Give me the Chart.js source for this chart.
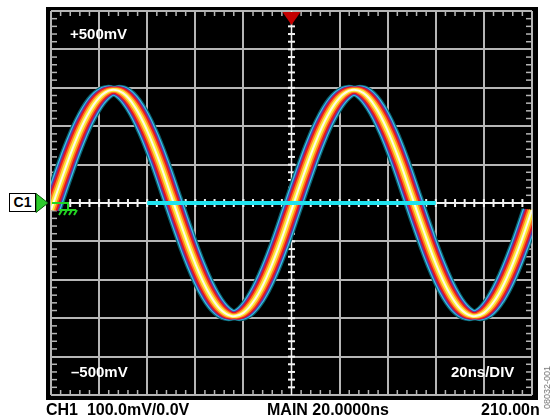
<!DOCTYPE html>
<html>
<head>
<meta charset="utf-8">
<script src="https://cdn.jsdelivr.net/npm/chart.js@4.4.1/dist/chart.umd.min.js"></script>
<style>
  body { margin: 0; background: #fff; }
  #wrap { position: relative; width: 550px; height: 419px; font-family: "Liberation Sans", Arial, sans-serif; font-weight: bold; }
  #scope { position: absolute; left: 0; top: 0; }
  .lbl { position: absolute; white-space: nowrap; line-height: 1; }
  .in { color: #fff; font-size: 15px; }
  .out { color: #000; font-size: 16px; }
  #c1 { position: absolute; left: 9px; top: 193px; width: 25px; height: 17px; border: 1px solid #000; background: #fff; font-size: 14px; line-height: 17px; text-align: center; }
  #code { position: absolute; left: 526px; top: 383px; font-size: 9px; font-weight: normal; color: #777; transform: rotate(-90deg); transform-origin: center; line-height: 1; white-space: nowrap; }
</style>
</head>
<body>
<div id="wrap">
  <canvas id="scope" width="550" height="419"></canvas>
  <div class="lbl in" style="left:70px; top:26px;">+500mV</div>
  <div class="lbl in" style="left:71px; top:364px;">–500mV</div>
  <div class="lbl in" style="left:451px; top:364px;">20ns/DIV</div>
  <div class="lbl out" style="left:46px; top:402px;">CH1&nbsp; 100.0mV/0.0V</div>
  <div class="lbl out" style="left:267px; top:402px;">MAIN 20.0000ns</div>
  <div class="lbl out" style="left:481px; top:402px;">210.00n</div>
  <div id="c1">C1</div>
  <div id="code">08032-001</div>
</div>
<script>
// trace, 5ns steps (ns / mV)
const times = [0, 5, 10, 15, 20, 25, 30, 35, 40, 45, 50, 55, 60, 65, 70, 75, 80, 85, 90, 95,
  100, 105, 110, 115, 120, 125, 130, 135, 140, 145, 150, 155, 160, 165, 170, 175, 180, 185, 190, 195, 200];
const volts = [-18, 73, 158, 227, 274, 294, 286, 249, 188, 109, 18, -73, -158, -227, -274, -294, -286, -249, -188, -109,
  -18, 73, 158, 227, 274, 294, 286, 249, 188, 109, 18, -73, -158, -227, -274, -294, -286, -249, -188, -109, -18];

// cyan reference line across the middle
const cursorTimes = [40, 160];
const cursorVolts = [0, 0];

// screen: 10 x 20ns, 10 x 100mV
const xRange = [0, 200];
const yRange = [-500, 500];

// persistence colours, core -> outside (shift in ns for timing jitter)
const layers = [
  { color: '#fffbe8', width: 2, shift: 0 },
  { color: '#fbe93a', width: 3.5, shift: 0.5 },
  { color: '#ff7a22', width: 5, shift: 0.9 },
  { color: '#e8141e', width: 6.5, shift: 1.35 },
  { color: '#5a3ca8', width: 7.5, shift: 1.8 },
  { color: '#33c8ea', width: 8.5, shift: 2.1 },
  { color: '#0d6070', width: 10, shift: 2.35 }
];

// chart.js paints dataset 0 last (on top), so the cursor goes first
const datasets = [{
  data: cursorTimes.map((t, i) => ({ x: t, y: cursorVolts[i] })),
  borderColor: '#1ee3f0',
  borderWidth: 4,
  pointRadius: 0,
  clip: 0
}];
layers.forEach(l => {
  const shifts = l.shift ? [-l.shift, l.shift] : [0];
  shifts.forEach(s => {
    datasets.push({
      data: times.map((t, i) => ({ x: t + s, y: volts[i] })),
      borderColor: l.color,
      borderWidth: l.width,
      tension: 0.4,
      pointRadius: 0,
      clip: 0
    });
  });
});

const gray = '#b6b6b6';

const scopePlugin = {
  id: 'scope',
  beforeDraw(chart) {
    const c = chart.ctx;
    const a = chart.chartArea;
    c.save();
    c.fillStyle = '#000';
    c.fillRect(a.left - 5, a.top - 4, a.right - a.left + 11, a.bottom - a.top + 9);
    c.restore();
  },
  beforeDatasetsDraw(chart) {
    const c = chart.ctx;
    const a = chart.chartArea;
    const x = chart.scales.x, y = chart.scales.y;
    const cx = x.getPixelForValue(100), cy = y.getPixelForValue(0);
    c.save();
    // minor ticks on the border
    c.fillStyle = gray;
    for (let t = 4; t < 200; t += 4) {
      if (t % 20 === 0) continue;
      const px = x.getPixelForValue(t);
      c.fillRect(px - 0.75, a.top, 1.5, 5);
      c.fillRect(px - 0.75, a.bottom - 5, 1.5, 5);
    }
    for (let v = -480; v < 500; v += 20) {
      if (v % 100 === 0) continue;
      const py = y.getPixelForValue(v);
      c.fillRect(a.left, py - 0.75, 6, 1.5);
      c.fillRect(a.right - 6, py - 0.75, 6, 1.5);
    }
    // centre cross with ticks
    c.fillStyle = '#f2f2f2';
    c.fillRect(a.left, cy - 1, a.right - a.left, 2);
    c.fillRect(cx - 0.75, a.top, 1.5, a.bottom - a.top);
    for (let t = 4; t < 200; t += 4) {
      const px = x.getPixelForValue(t);
      c.fillRect(px - 1, cy - 4, 2, 8);
    }
    for (let v = -480; v < 500; v += 20) {
      const py = y.getPixelForValue(v);
      c.fillRect(cx - 3.5, py - 1, 7, 2);
    }
    c.restore();
  },
  afterDatasetsDraw(chart) {
    const c = chart.ctx;
    const a = chart.chartArea;
    const cy = chart.scales.y.getPixelForValue(0);
    const cx = chart.scales.x.getPixelForValue(100);
    c.save();
    // ground symbol
    c.strokeStyle = '#22d422';
    c.lineWidth = 2;
    c.beginPath();
    c.moveTo(a.left + 1, cy); c.lineTo(a.left + 17, cy); c.lineTo(a.left + 17, cy + 7);
    c.moveTo(a.left + 8, cy + 7); c.lineTo(a.left + 25, cy + 7);
    for (let k = 0; k < 4; k++) {
      const gx = a.left + 11 + k * 5;
      c.moveTo(gx, cy + 7); c.lineTo(gx - 3, cy + 12);
    }
    c.stroke();
    // channel marker
    c.fillStyle = '#2ccc2c';
    c.strokeStyle = '#0a5a0a';
    c.lineWidth = 1;
    c.beginPath();
    c.moveTo(36, cy - 9.5); c.lineTo(48, cy); c.lineTo(36, cy + 9.5); c.closePath();
    c.fill(); c.stroke();
    // trigger marker
    c.fillStyle = '#c40000';
    c.beginPath();
    c.moveTo(cx - 9, a.top + 1); c.lineTo(cx + 9, a.top + 1); c.lineTo(cx, a.top + 14); c.closePath();
    c.fill();
    c.restore();
  }
};

new Chart(document.getElementById('scope'), {
  type: 'line',
  data: { datasets: datasets },
  options: {
    responsive: false,
    animation: false,
    events: [],
    layout: { padding: { left: 51, right: 18, top: 11, bottom: 24 } },
    plugins: { legend: { display: false }, tooltip: { enabled: false } },
    scales: {
      x: {
        type: 'linear', min: xRange[0], max: xRange[1],
        ticks: { display: false, stepSize: 20 },
        grid: { color: ctx => ctx.tick && ctx.tick.value === 100 ? 'rgba(0,0,0,0)' : gray, lineWidth: 2, drawTicks: false },
        border: { display: false }
      },
      y: {
        type: 'linear', min: yRange[0], max: yRange[1],
        ticks: { display: false, stepSize: 100 },
        grid: { color: ctx => ctx.tick && ctx.tick.value === 0 ? 'rgba(0,0,0,0)' : gray, lineWidth: 2, drawTicks: false },
        border: { display: false }
      }
    }
  },
  plugins: [scopePlugin]
});
</script>
</body>
</html>
